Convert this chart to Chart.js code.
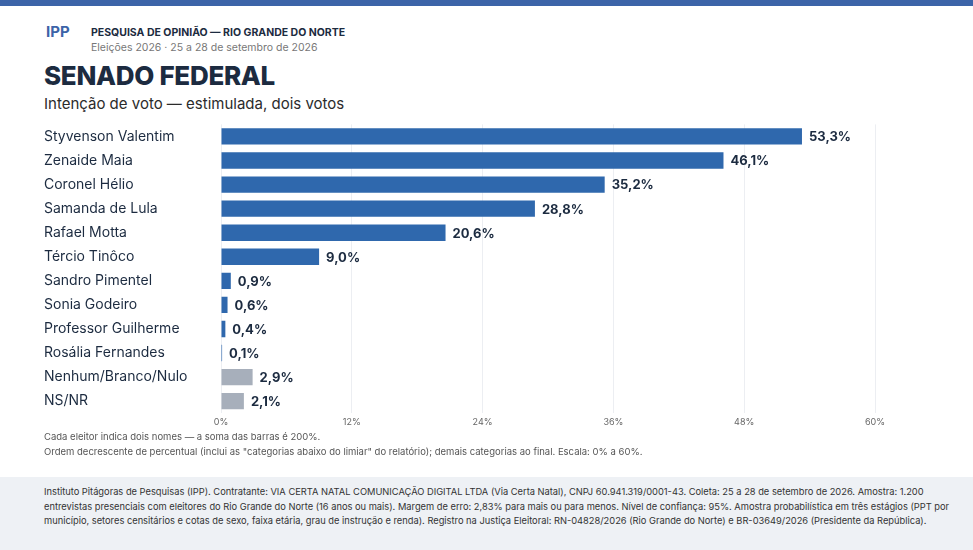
<!DOCTYPE html>
<html><head><meta charset="utf-8">
<script src="https://cdn.jsdelivr.net/npm/chart.js@4"></script>
<style>
body{margin:0;width:973px;height:550px;position:relative;background:#fff;font-family:Inter,"Open Sans",sans-serif;overflow:hidden}
.topbar{position:absolute;left:0;top:0;width:973px;height:6px;background:#3c64a8}
.logo{position:absolute;left:46px;top:22px;width:32px;height:28px;color:#3c64a8;font-size:15px;font-weight:700}
.h1{position:absolute;left:91px;top:26px;font-size:10.5px;font-weight:700;color:#1c2b40}
.h2{position:absolute;left:91px;top:41px;font-size:10.5px;color:#777}
.title{position:absolute;left:44px;top:60px;font-size:26px;font-weight:800;color:#1c2b40;letter-spacing:-0.3px}
.sub{position:absolute;left:44px;top:94px;font-size:15px;color:#2b2b2b}
.note{position:absolute;left:44px;font-size:9.5px;color:#555}
.footer{position:absolute;left:0;top:477px;width:973px;height:73px;background:#eef1f5}
.ftxt{position:absolute;left:44px;width:915px;font-size:9.3px;line-height:14.5px;color:#333}
#wrap{position:absolute;left:0;top:116px;width:973px;height:316px}
</style></head><body>
<div class="topbar"></div>
<div class="logo">IPP</div>
<div class="h1">PESQUISA DE OPINIÃO — RIO GRANDE DO NORTE</div>
<div class="h2">Eleições 2026 · 25 a 28 de setembro de 2026</div>
<div class="title">SENADO FEDERAL</div>
<div class="sub">Intenção de voto — estimulada, dois votos</div>
<div id="wrap"><canvas id="c"></canvas></div>
<div class="note" style="top:431px">Cada eleitor indica dois nomes — a soma das barras é 200%.</div>
<div class="note" style="top:446px">Ordem decrescente de percentual (inclui as "categorias abaixo do limiar" do relatório); demais categorias ao final. Escala: 0% a 60%.</div>
<div class="footer"></div>
<div class="ftxt" style="top:485px">Instituto Pitágoras de Pesquisas (IPP). Contratante: VIA CERTA NATAL COMUNICAÇÃO DIGITAL LTDA (Via Certa Natal), CNPJ 60.941.319/0001-43. Coleta: 25 a 28 de setembro de 2026. Amostra: 1.200 entrevistas presenciais com eleitores do Rio Grande do Norte (16 anos ou mais). Margem de erro: 2,83% para mais ou para menos. Nível de confiança: 95%. Amostra probabilística em três estágios (PPT por município, setores censitários e cotas de sexo, faixa etária, grau de instrução e renda). Registro na Justiça Eleitoral: RN-04828/2026 (Rio Grande do Norte) e BR-03649/2026 (Presidente da República).</div>
<script>
const categories=["Styvenson Valentim","Zenaide Maia","Coronel Hélio","Samanda de Lula","Rafael Motta","Tércio Tinôco","Sandro Pimentel","Sonia Godeiro","Professor Guilherme","Rosália Fernandes","Nenhum/Branco/Nulo","NS/NR"];
const values=[53.3,46.1,35.2,28.8,20.6,9.0,0.9,0.6,0.4,0.1,2.9,2.1];
const isOther=[false,false,false,false,false,false,false,false,false,false,true,true];
const xTicks=[0,12,24,36,48,60];
const colors=isOther.map(o=>o?"#a7afbb":"#2f68ad");
const labelPlugin={id:"lbl",afterDatasetsDraw(ch){const ctx=ch.ctx;const m=ch.getDatasetMeta(0);ctx.save();ctx.font="700 13px Inter, sans-serif";ctx.fillStyle="#1c2b40";ctx.textBaseline="middle";
m.data.forEach((b,i)=>{ctx.fillText(values[i].toFixed(1).replace(".",",")+"%",b.x+7,b.y+1);});ctx.restore();}};
new Chart(document.getElementById("c"),{type:"bar",
data:{labels:categories,datasets:[{data:values,backgroundColor:colors,barPercentage:0.68,categoryPercentage:1}]},
options:{indexAxis:"y",responsive:true,maintainAspectRatio:false,animation:false,
layout:{padding:{left:44,right:98,top:4,bottom:0}},
plugins:{legend:{display:false},tooltip:{enabled:false}},
scales:{
x:{min:0,max:60,afterBuildTicks(a){a.ticks=xTicks.map(v=>({value:v}));},
ticks:{callback:v=>v+"%",color:"#666",font:{size:9,family:"Inter"},padding:4},
grid:{color:"#eceef2",drawTicks:false},border:{display:false}},
y:{afterFit(a){a.width=177;},ticks:{crossAlign:"far",color:"#1c2b40",font:{size:14,family:"Inter"},padding:0},grid:{display:false},border:{display:false}}
}},plugins:[labelPlugin]});
</script>
</body></html>
